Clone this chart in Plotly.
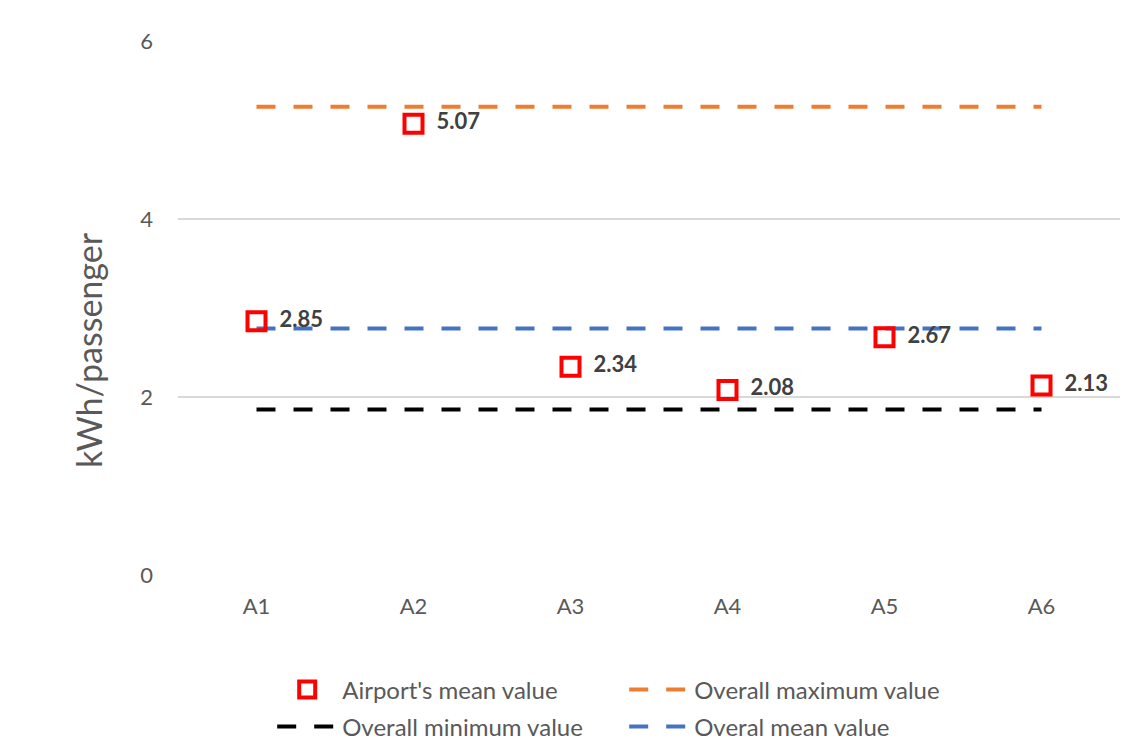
import plotly.graph_objects as go

categories = ["A1", "A2", "A3", "A4", "A5", "A6"]
airport_mean = [2.85, 5.07, 2.34, 2.08, 2.67, 2.13]
overall_max = [5.26] * 6
overall_min = [1.86] * 6
overall_mean = [2.77] * 6
y_ticks = [0, 2, 4, 6]

FONT = "Lato, 'Open Sans', sans-serif"
GREY = "#595959"
DASH = "19px,18px"

fig = go.Figure()

fig.add_trace(go.Scatter(
    x=categories, y=overall_max, mode="lines", name="Overall maximum value",
    line=dict(color="#ED7D31", width=4, dash=DASH), legend="legend", legendrank=2))
fig.add_trace(go.Scatter(
    x=categories, y=overall_mean, mode="lines", name="Overal mean value",
    line=dict(color="#4472C4", width=4, dash=DASH), legend="legend2", legendrank=2))
fig.add_trace(go.Scatter(
    x=categories, y=overall_min, mode="lines", name="Overall minimum value",
    line=dict(color="#000000", width=4, dash=DASH), legend="legend2", legendrank=1))
fig.add_trace(go.Scatter(
    x=categories, y=airport_mean, mode="markers+text", name="Airport's mean value",
    marker=dict(symbol="square-open", size=18, color="#FF0000", line=dict(width=4, color="#FF0000")),
    text=["\u00a0\u00a0" + f"{v:.2f}" for v in airport_mean], textposition="middle right",
    textfont=dict(family=FONT, size=22, color="#404040", weight="bold"),
    legend="legend", legendrank=1))

legend_common = dict(orientation="h", xanchor="left", yanchor="middle",
                     entrywidth=277, entrywidthmode="pixels", itemwidth=60,
                     font=dict(size=24, color=GREY), traceorder="normal",
                     bgcolor="rgba(0,0,0,0)")

fig.update_layout(
    width=1126, height=756,
    margin=dict(l=178, r=6, t=41, b=181, autoexpand=False),
    paper_bgcolor="white", plot_bgcolor="white",
    font=dict(family=FONT, color=GREY),
    showlegend=True,
    legend=dict(x=0.1, y=-(690 - 575) / 534, **legend_common),
    legend2=dict(x=0.1, y=-(727 - 575) / 534, **legend_common),
    annotations=[dict(
        text="kWh/passenger", xref="paper", yref="paper",
        x=-(178 - 88) / 942, y=(575 - 350) / 534, xanchor="center", yanchor="middle",
        textangle=-90, showarrow=False, font=dict(size=34, color=GREY))],
)
fig.update_xaxes(
    type="category", categoryorder="array", categoryarray=categories,
    range=[-0.5, 5.5], showgrid=False, showline=False, zeroline=False,
    tickfont=dict(size=22, color=GREY), ticks="", ticklabelstandoff=16)
fig.update_yaxes(
    range=[0, 6], tickvals=y_ticks, showgrid=True, gridcolor="#D9D9D9", gridwidth=2,
    zeroline=False, showline=False, tickfont=dict(size=22, color=GREY),
    ticks="", ticklabelstandoff=24)

fig.write_html("out.html")
